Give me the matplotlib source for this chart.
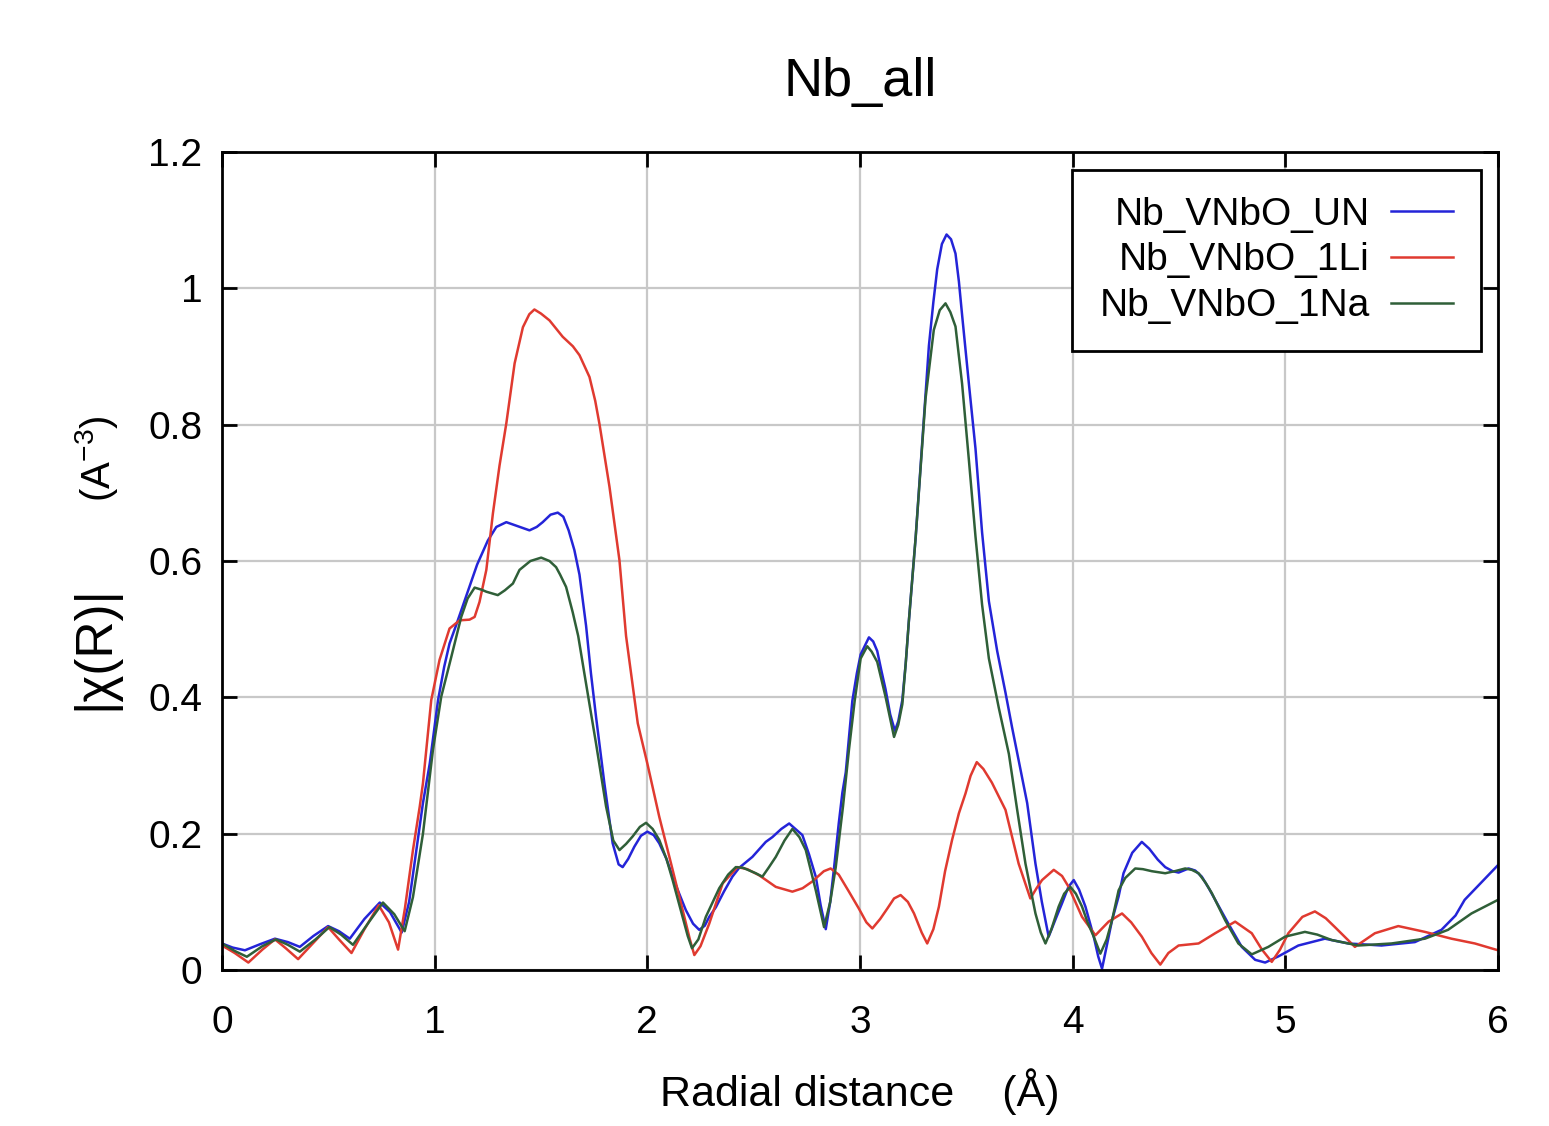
import numpy as np
import matplotlib
matplotlib.use('Agg')
import matplotlib.pyplot as plt
from matplotlib.ticker import FuncFormatter

plt.rcParams['font.family'] = ['Liberation Sans Narrow', 'Liberation Sans', 'DejaVu Sans']
plt.rcParams['mathtext.fontset'] = 'custom'
plt.rcParams['mathtext.rm'] = 'Liberation Sans'
plt.rcParams['mathtext.it'] = 'Liberation Sans'

# |chi(R)|, R in Angstrom
r_un = [0.00, 0.05, 0.108, 0.18, 0.249, 0.31, 0.366, 0.43, 0.499, 0.55, 0.601, 0.67, 0.742, 0.79, 0.845,
        0.88, 0.914, 0.945, 0.977, 1.016, 1.045, 1.070, 1.10, 1.15, 1.20, 1.25, 1.29, 1.337, 1.40, 1.446,
        1.48, 1.508, 1.545, 1.579, 1.605, 1.630, 1.657, 1.681, 1.712, 1.735, 1.759, 1.798, 1.837, 1.865,
        1.884, 1.910, 1.939, 1.97, 2.0, 2.03, 2.056, 2.09, 2.119, 2.15, 2.181, 2.215, 2.244, 2.27, 2.291,
        2.322, 2.36, 2.40, 2.432, 2.494, 2.557, 2.588, 2.63, 2.667, 2.70, 2.729, 2.76, 2.792, 2.815, 2.839,
        2.86, 2.878, 2.90, 2.917, 2.933, 2.964, 2.985, 3.003, 3.042, 3.062, 3.081, 3.100, 3.120, 3.142,
        3.164, 3.180, 3.199, 3.215, 3.230, 3.262, 3.293, 3.324, 3.345, 3.363, 3.385, 3.407, 3.428, 3.449,
        3.465, 3.480, 3.512, 3.543, 3.574, 3.606, 3.645, 3.684, 3.715, 3.754, 3.786, 3.81, 3.825, 3.855,
        3.887, 3.92, 3.950, 3.98, 4.005, 4.03, 4.060, 4.099, 4.120, 4.138, 4.16, 4.185, 4.216, 4.239, 4.28,
        4.325, 4.36, 4.40, 4.435, 4.470, 4.498, 4.545, 4.576, 4.607, 4.640, 4.670, 4.732, 4.795, 4.858,
        4.905, 4.967, 5.061, 5.186, 5.296, 5.452, 5.609, 5.734, 5.80, 5.843, 5.92, 6.0]
un = [0.039, 0.033, 0.029, 0.038, 0.046, 0.041, 0.034, 0.050, 0.0645, 0.057, 0.046, 0.075, 0.099, 0.085, 0.055,
      0.10, 0.176, 0.245, 0.303, 0.396, 0.445, 0.479, 0.505, 0.55, 0.595, 0.630, 0.650, 0.657, 0.650, 0.645,
      0.650, 0.657, 0.668, 0.671, 0.665, 0.645, 0.616, 0.580, 0.505, 0.435, 0.371, 0.274, 0.186, 0.155,
      0.151, 0.163, 0.181, 0.197, 0.203, 0.198, 0.186, 0.163, 0.137, 0.112, 0.088, 0.068, 0.059, 0.065, 0.078,
      0.092, 0.115, 0.137, 0.150, 0.166, 0.188, 0.195, 0.207, 0.215, 0.206, 0.198, 0.170, 0.137, 0.095, 0.060,
      0.100, 0.150, 0.215, 0.260, 0.290, 0.395, 0.435, 0.463, 0.488, 0.482, 0.468, 0.440, 0.412, 0.375,
      0.351, 0.365, 0.396, 0.450, 0.513, 0.636, 0.776, 0.916, 0.980, 1.028, 1.065, 1.079, 1.072, 1.051,
      1.010, 0.961, 0.860, 0.765, 0.642, 0.541, 0.468, 0.407, 0.356, 0.295, 0.245, 0.19, 0.156, 0.10,
      0.049, 0.075, 0.098, 0.122, 0.132, 0.118, 0.093, 0.049, 0.020, 0.002, 0.035, 0.073, 0.108, 0.142, 0.172,
      0.188, 0.178, 0.162, 0.151, 0.145, 0.143, 0.149, 0.146, 0.137, 0.120, 0.103, 0.068, 0.034, 0.015,
      0.011, 0.020, 0.036, 0.046, 0.039, 0.036, 0.041, 0.059, 0.080, 0.103, 0.128, 0.154]

r_li = [0.00, 0.06, 0.124, 0.19, 0.249, 0.30, 0.358, 0.43, 0.499, 0.55, 0.609, 0.67, 0.737, 0.785, 0.828,
        0.860, 0.898, 0.930, 0.945, 0.984, 1.023, 1.070, 1.117, 1.164, 1.188, 1.211, 1.243, 1.274, 1.305,
        1.337, 1.376, 1.415, 1.445, 1.469, 1.500, 1.540, 1.602, 1.650, 1.681, 1.728, 1.755, 1.775, 1.822,
        1.869, 1.900, 1.955, 2.000, 2.056, 2.119, 2.174, 2.200, 2.221, 2.250, 2.291, 2.354, 2.424, 2.47,
        2.526, 2.604, 2.682, 2.730, 2.776, 2.830, 2.862, 2.900, 2.948, 2.995, 3.030, 3.058, 3.095, 3.128,
        3.160, 3.191, 3.225, 3.254, 3.290, 3.316, 3.345, 3.371, 3.400, 3.433, 3.465, 3.496, 3.520, 3.549,
        3.580, 3.62, 3.684, 3.746, 3.801, 3.830, 3.856, 3.911, 3.950, 3.981, 4.044, 4.107, 4.169, 4.232,
        4.275, 4.325, 4.370, 4.412, 4.450, 4.498, 4.592, 4.670, 4.764, 4.842, 4.890, 4.936, 4.975, 5.014,
        5.080, 5.139, 5.190, 5.233, 5.327, 5.421, 5.531, 5.656, 5.781, 5.891, 6.0]
li = [0.036, 0.025, 0.011, 0.030, 0.045, 0.032, 0.016, 0.040, 0.063, 0.045, 0.025, 0.060, 0.095, 0.070, 0.030,
      0.090, 0.176, 0.240, 0.274, 0.396, 0.455, 0.501, 0.513, 0.514, 0.518, 0.540, 0.587, 0.670, 0.740,
      0.802, 0.890, 0.943, 0.962, 0.969, 0.963, 0.953, 0.929, 0.915, 0.902, 0.870, 0.835, 0.801, 0.709,
      0.601, 0.490, 0.362, 0.303, 0.225, 0.147, 0.078, 0.045, 0.022, 0.035, 0.068, 0.127, 0.151, 0.148,
      0.139, 0.122, 0.115, 0.120, 0.130, 0.145, 0.149, 0.140, 0.115, 0.090, 0.070, 0.061, 0.075, 0.090,
      0.105, 0.110, 0.100, 0.083, 0.055, 0.039, 0.060, 0.093, 0.145, 0.191, 0.230, 0.259, 0.285, 0.305,
      0.295, 0.275, 0.235, 0.156, 0.105, 0.120, 0.132, 0.147, 0.138, 0.122, 0.078, 0.051, 0.071, 0.083,
      0.070, 0.049, 0.025, 0.008, 0.025, 0.036, 0.039, 0.054, 0.071, 0.054, 0.030, 0.012, 0.030, 0.054,
      0.078, 0.086, 0.076, 0.063, 0.034, 0.054, 0.0645, 0.056, 0.046, 0.039, 0.029]

r_na = [0.00, 0.06, 0.117, 0.19, 0.254, 0.31, 0.366, 0.44, 0.505, 0.56, 0.616, 0.69, 0.757, 0.81, 0.859,
        0.898, 0.945, 0.992, 1.031, 1.078, 1.125, 1.155, 1.188, 1.22, 1.243, 1.297, 1.33, 1.368, 1.399,
        1.45, 1.501, 1.540, 1.571, 1.590, 1.618, 1.649, 1.675, 1.704, 1.759, 1.806, 1.840, 1.869, 1.900,
        1.931, 1.965, 1.994, 2.025, 2.056, 2.090, 2.119, 2.166, 2.190, 2.210, 2.240, 2.275, 2.338, 2.38,
        2.416, 2.450, 2.510, 2.541, 2.570, 2.604, 2.645, 2.682, 2.715, 2.745, 2.792, 2.831, 2.86, 2.886,
        2.92, 2.948, 2.975, 3.003, 3.034, 3.055, 3.081, 3.120, 3.160, 3.180, 3.199, 3.215, 3.230, 3.262,
        3.308, 3.347, 3.375, 3.402, 3.425, 3.449, 3.480, 3.512, 3.543, 3.574, 3.606, 3.653, 3.700, 3.739,
        3.778, 3.825, 3.850, 3.872, 3.90, 3.934, 3.960, 3.989, 4.015, 4.044, 4.070, 4.099, 4.130, 4.160,
        4.185, 4.216, 4.247, 4.294, 4.330, 4.372, 4.435, 4.48, 4.529, 4.560, 4.592, 4.625, 4.654, 4.717,
        4.779, 4.842, 4.920, 4.999, 5.092, 5.150, 5.218, 5.343, 5.499, 5.656, 5.765, 5.875, 6.0]
na = [0.039, 0.028, 0.0195, 0.035, 0.045, 0.037, 0.027, 0.045, 0.063, 0.052, 0.037, 0.070, 0.099, 0.082, 0.057,
      0.107, 0.200, 0.323, 0.401, 0.459, 0.518, 0.545, 0.561, 0.558, 0.555, 0.550, 0.557, 0.567, 0.587,
      0.600, 0.605, 0.600, 0.591, 0.580, 0.562, 0.525, 0.49, 0.435, 0.332, 0.240, 0.190, 0.176, 0.185,
      0.196, 0.210, 0.216, 0.207, 0.191, 0.163, 0.132, 0.078, 0.050, 0.032, 0.045, 0.078, 0.120, 0.140,
      0.151, 0.150, 0.142, 0.137, 0.150, 0.166, 0.190, 0.207, 0.195, 0.176, 0.117, 0.063, 0.100, 0.151,
      0.240, 0.323, 0.395, 0.457, 0.475, 0.467, 0.452, 0.401, 0.342, 0.360, 0.390, 0.450, 0.513, 0.636,
      0.838, 0.939, 0.968, 0.978, 0.965, 0.944, 0.860, 0.748, 0.636, 0.536, 0.457, 0.384, 0.317, 0.235,
      0.156, 0.083, 0.055, 0.039, 0.060, 0.093, 0.112, 0.122, 0.112, 0.093, 0.070, 0.049, 0.024, 0.045,
      0.073, 0.117, 0.135, 0.149, 0.148, 0.145, 0.142, 0.145, 0.149, 0.147, 0.142, 0.128, 0.113, 0.073,
      0.039, 0.023, 0.034, 0.049, 0.056, 0.052, 0.044, 0.036, 0.039, 0.046, 0.059, 0.083, 0.103]

labels = ['Nb_VNbO_UN', 'Nb_VNbO_1Li', 'Nb_VNbO_1Na']
colors = ['#2424d8', '#e03a30', '#2f5f38']

fig = plt.figure(figsize=(15.49, 11.26), dpi=100)
ax = fig.add_axes([0.1433, 0.1385, 0.8238, 0.7265])

ax.plot(r_un, un, color=colors[0], lw=1.8, label=labels[0])
ax.plot(r_li, li, color=colors[1], lw=1.8, label=labels[1])
ax.plot(r_na, na, color=colors[2], lw=1.8, label=labels[2])

ax.set_xlim(0, 6)
ax.set_ylim(0, 1.2)
ax.set_xticks(range(0, 7))
ax.set_yticks(np.arange(0, 1.21, 0.2))
ax.yaxis.set_major_formatter(FuncFormatter(lambda v, p: '%g' % round(v, 2)))
ax.grid(True, color='#c8c8c8', lw=1.6)
ax.set_axisbelow(True)
ax.tick_params(direction='in', length=11, width=2, top=True, right=True, labelsize=28)
ax.tick_params(axis='x', pad=25)
ax.tick_params(axis='y', pad=14)
for s in ax.spines.values():
    s.set_linewidth(2)
    s.set_color('black')

ax.set_title('Nb_all', fontsize=39, pad=40)
ax.set_xlabel('Radial distance    (Å)', fontsize=31, labelpad=20)
fig.text(0.061, 0.425, '|χ(R)|', rotation=90, fontsize=37, ha='center', va='center')
fig.text(0.062, 0.593, '(A$^{-3}$)', rotation=90, fontsize=29, ha='center', va='center')

leg = ax.legend(loc='upper right', markerfirst=False, fontsize=28, frameon=True, fancybox=False,
                edgecolor='black', framealpha=1, borderaxespad=0.45, borderpad=0.7,
                handlelength=1.6, handletextpad=0.55, labelspacing=0.25)
leg.get_frame().set_linewidth(2)

fig.savefig('out.png', dpi=100)
